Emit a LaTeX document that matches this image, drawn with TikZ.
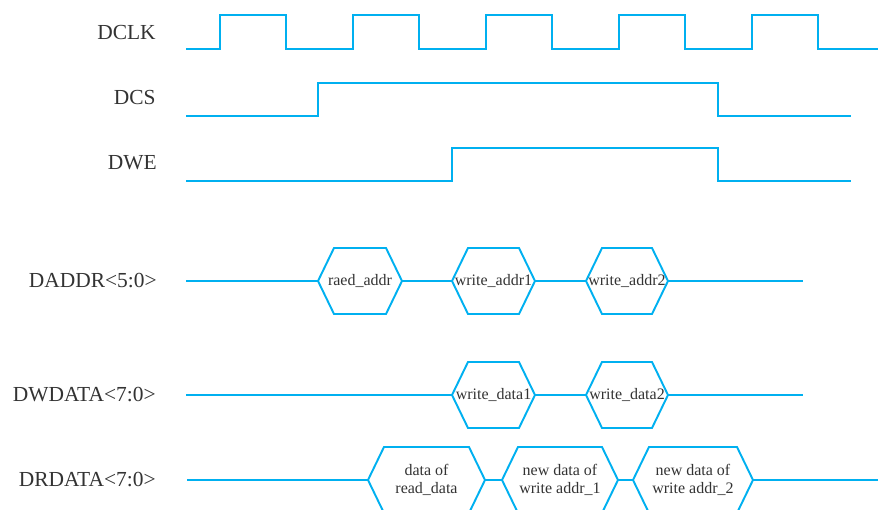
\documentclass[tikz,border=0pt]{standalone}
\usepackage{fontspec}
\setmainfont{Liberation Serif}
\usetikzlibrary{positioning}

\begin{document}
\begin{tikzpicture}[x=0.2mm, y=-0.2mm]
    \definecolor{sig_blue}{HTML}{00B0F0}
    \definecolor{txt_gray}{HTML}{333333}
    \tikzset{
        sig/.style={draw=sig_blue, line width=1.1pt, line join=miter},
        lbl/.style={anchor=east, inner sep=0pt, text=txt_gray, font=\fontsize{12.2}{14}\selectfont},
        val/.style={inner sep=0pt, text=txt_gray, align=center, font=\fontsize{9.1}{10.2}\selectfont}
    }
    %\draw[help lines] (0,0) grid[step=50] (878,510);
    \useasboundingbox (0,0) rectangle (878,510);

    % signal names
    \node[lbl] (dclk) at (156,33) {DCLK};
    \node[lbl] (dcs) at (156,98) {DCS};
    \node[lbl] (dwe) at (157,163) {DWE};
    \node[lbl] (daddr) at (157,281) {DADDR<5:0>};
    \node[lbl] (dwdata) at (156,395) {DWDATA<7:0>};
    \node[lbl] (drdata) at (156,480) {DRDATA<7:0>};

    % clock and control lines
    \draw[sig] (186,49) \foreach \i in {0,...,4} {
        -- (220+133*\i,49) -- ++(0,-34) -- ++(66,0) -- ++(0,34)
    } -- (878,49);
    \draw[sig] (186,116) -- (318,116) -- (318,83) -- (718,83) -- (718,116) -- (851,116);
    \draw[sig] (186,181) -- (452,181) -- (452,148) -- (718,148) -- (718,181) -- (851,181);

    % bus values
    \foreach \l/\r/\y in {318/402/281, 452/535/281, 586/668/281,
                          452/535/395, 586/668/395,
                          368/485/480, 502/618/480, 633/753/480}
        \draw[sig] (\l,\y) -- (\l+16,\y-33) -- (\r-16,\y-33) -- (\r,\y)
            -- (\r-16,\y+33) -- (\l+16,\y+33) -- cycle;

    \draw[sig] (186,281) -- (318,281) (402,281) -- (452,281)
        (535,281) -- (586,281) (668,281) -- (803,281);
    \draw[sig] (186,395) -- (452,395) (535,395) -- (586,395) (668,395) -- (803,395);
    \draw[sig] (187,480) -- (368,480) (485,480) -- (502,480)
        (618,480) -- (633,480) (753,480) -- (878,480);

    \node[val] (rd_addr) at (360,281) {raed\_addr};
    \node[val] (wr_addr1) at (493.5,281) {write\_addr1};
    \node[val] (wr_addr2) at (627,281) {write\_addr2};
    \node[val] (wr_data1) at (493.5,395) {write\_data1};
    \node[val] (wr_data2) at (627,395) {write\_data2};
    \node[val] (rd_data) at (426.5,480) {data of\\read\_data};
    \node[val] (new_data1) at (560,480) {new data of\\write addr\_1};
    \node[val] (new_data2) at (693,480) {new data of\\write addr\_2};

\end{tikzpicture}
\end{document}
